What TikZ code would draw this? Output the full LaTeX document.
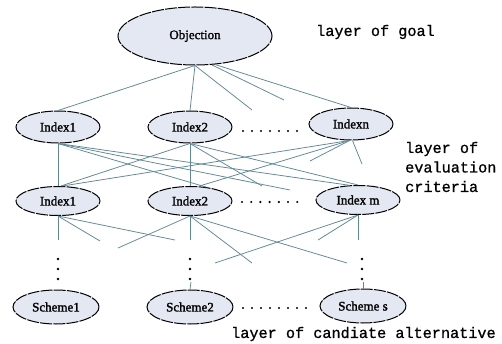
\documentclass[tikz,border=0pt]{standalone}
\usepackage{fontspec}
\setmainfont{Liberation Serif}
\newfontfamily\nodefont[FakeBold=1.6]{Liberation Serif}
\newfontfamily\labelfont[FakeBold=0.9]{Liberation Mono}
\usetikzlibrary{shapes.geometric}
\definecolor{linkc}{HTML}{5F8796}
\definecolor{nodefill}{HTML}{E4E8F2}
\begin{document}
\begin{tikzpicture}[x=1pt,y=-1pt,
  elnode/.style={ellipse, draw=black, line width=1pt, fill=nodefill, inner sep=0pt,
    dash pattern=on 12pt off 1.2pt, font=\nodefont\fontsize{13}{15}\selectfont},
  rowa/.style={elnode, minimum width=84pt, minimum height=32pt},
  rowb/.style={elnode, minimum width=84pt, minimum height=29pt},
  rows/.style={elnode, minimum width=86pt, minimum height=34pt},
  link/.style={draw=linkc, line width=0.75pt},
  layerlabel/.style={font=\labelfont\fontsize{15.2}{19.5}\selectfont, inner sep=0pt, align=left},
  dotmark/.style={fill=black}]
\useasboundingbox (0,0) rectangle (502,344);
\fill[white] (0,0) rectangle (502,344);

% nodes
\node[elnode, minimum width=154pt, minimum height=58pt] (obj) at (195,36) {Objection};
\node[rowa] (a1) at (58,127) {Index1};
\node[rowa] (a2) at (190,127) {Index2};
\node[rowa] (an) at (351,124) {Indexn};
\node[rowb] (b1) at (58,201) {Index1};
\node[rowb] (b2) at (190,201) {Index2};
\node[rowb] (bm) at (358,200) {Index m};
\node[rows] (s1) at (56,307) {Scheme1};
\node[rows] (s2) at (190,307) {Scheme2};
\node[rows] (ss) at (363,306) {Scheme s};

% free ends
\coordinate (o1) at (252,110);
\coordinate (o2) at (284,100);
\coordinate (t1) at (290,190);
\coordinate (t2) at (262,186);
\coordinate (t3) at (310,161);
\coordinate (t4) at (362,164);
\coordinate (m1) at (58,240);
\coordinate (m2) at (100,241);
\coordinate (m3) at (175,240);
\coordinate (m4) at (190,240);
\coordinate (m5) at (118,248);
\coordinate (m6) at (252,263);
\coordinate (m7) at (347,263);
\coordinate (m8) at (358,240);
\coordinate (m9) at (215,263);
\coordinate (m10) at (318,240);
\coordinate (d2) at (191,282);
\coordinate (ds) at (363,282);

% goal -> criteria
\draw[link] (obj.south) -- (a1.north);
\draw[link] (obj.south) -- (a2.north);
\draw[link] (obj.south) -- (o1);
\draw[link] (obj.300) -- (o2);
\draw[link] (obj.305) -- (an.north);

% criteria -> criteria
\draw[link] (a1.south) -- (b1.north);
\draw[link] (a1.south) -- (bm.120);
\draw[link] (a1.south) -- (t1);
\draw[link] (a1.south) -- (b2.40);
\draw[link] (a2.south) -- (b2.north);
\draw[link] (a2.south) -- (b1.80);
\draw[link] (a2.south) -- (t2);
\draw[link] (a2.south) -- (bm.north);
\draw[link] (an.265) -- (b1.75);
\draw[link] (an.265) -- (b2.60);
\draw[link] (an.265) -- (t3);
\draw[link] (an.275) -- (t4);

% criteria -> alternatives
\draw[link] (b1.south) -- (m1);
\draw[link] (b1.south) -- (m2);
\draw[link] (b1.south) -- (m3);
\draw[link] (b2.south) -- (m4);
\draw[link] (b2.south) -- (m5);
\draw[link] (b2.south) -- (m6);
\draw[link] (b2.south) -- (m7);
\draw[link] (bm.south) -- (m8);
\draw[link] (bm.south) -- (m9);
\draw[link] (bm.south) -- (m10);
\draw[link] (d2) -- (s2.north);
\draw[link] (ds) -- (ss.north);

% vertical dots
\foreach \x in {58,190,362}{
  \foreach \y in {259,269,279}{
    \fill[dotmark] (\x,\y) circle (1.3pt);
  }
}
% horizontal dots
\foreach \i in {0,...,6}{
  \fill[dotmark] (243+9*\i,131) circle (1.2pt);
  \fill[dotmark] (242+9.2*\i,202) circle (1.2pt);
}
\foreach \i in {0,...,7}{
  \fill[dotmark] (243+9*\i,308) circle (1.2pt);
}

% labels
\node[layerlabel, anchor=west] (lg) at (316,32) {layer of goal};
\node[layerlabel, anchor=west] (le) at (405,167) {layer of\\evaluation\\criteria};
\node[layerlabel, anchor=west] (la) at (231,334) {layer of candiate alternative};
\end{tikzpicture}
\end{document}
